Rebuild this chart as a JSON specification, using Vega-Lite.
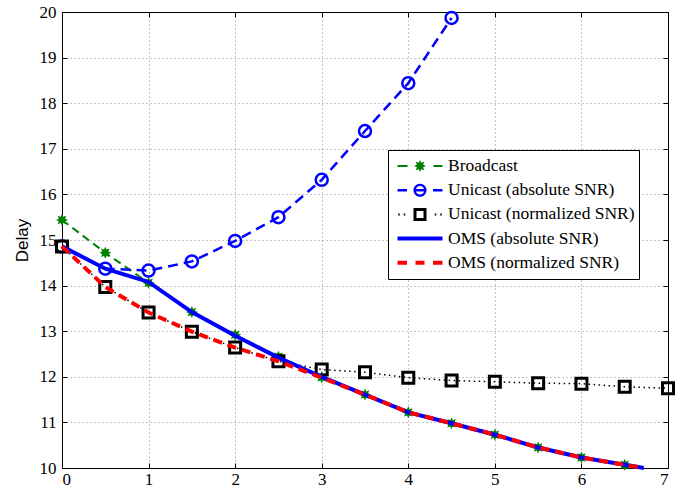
{
  "$schema": "https://vega.github.io/schema/vega-lite/v6.json",
  "width": 606,
  "height": 456,
  "autosize": {"type": "none"},
  "padding": {"left": 62, "top": 12, "right": 20, "bottom": 27},
  "background": "white",
  "config": {
    "view": {"stroke": "#000", "strokeWidth": 1},
    "axis": {
      "labelFont": "Liberation Serif",
      "labelFontSize": 17,
      "labelColor": "#000",
      "tickColor": "#000",
      "tickWidth": 1,
      "domainColor": "#000",
      "domainWidth": 1,
      "gridColor": "#000",
      "gridDash": [1, 3],
      "gridOpacity": 0.6,
      "gridWidth": 0.8,
      "titleFont": "Liberation Sans",
      "titleFontSize": 17,
      "titleFontWeight": "normal",
      "titleColor": "#000"
    }
  },
  "data": {
    "values": [
      {"s": "Broadcast", "x": 0, "y": 15.44},
      {"s": "Broadcast", "x": 0.5, "y": 14.72},
      {"s": "Broadcast", "x": 1, "y": 14.06},
      {"s": "Broadcast", "x": 1.5, "y": 13.42},
      {"s": "Broadcast", "x": 2, "y": 12.92},
      {"s": "Broadcast", "x": 2.5, "y": 12.44},
      {"s": "Broadcast", "x": 3, "y": 11.99},
      {"s": "Broadcast", "x": 3.5, "y": 11.61},
      {"s": "Broadcast", "x": 4, "y": 11.22},
      {"s": "Broadcast", "x": 4.5, "y": 10.98},
      {"s": "Broadcast", "x": 5, "y": 10.73},
      {"s": "Broadcast", "x": 5.5, "y": 10.45},
      {"s": "Broadcast", "x": 6, "y": 10.23},
      {"s": "Broadcast", "x": 6.5, "y": 10.07},
      {"s": "Unicast (absolute SNR)", "x": 0, "y": 14.86},
      {"s": "Unicast (absolute SNR)", "x": 0.5, "y": 14.37},
      {"s": "Unicast (absolute SNR)", "x": 1, "y": 14.33},
      {"s": "Unicast (absolute SNR)", "x": 1.5, "y": 14.53},
      {"s": "Unicast (absolute SNR)", "x": 2, "y": 14.98},
      {"s": "Unicast (absolute SNR)", "x": 2.5, "y": 15.5},
      {"s": "Unicast (absolute SNR)", "x": 3, "y": 16.32},
      {"s": "Unicast (absolute SNR)", "x": 3.5, "y": 17.39},
      {"s": "Unicast (absolute SNR)", "x": 4, "y": 18.44},
      {"s": "Unicast (absolute SNR)", "x": 4.5, "y": 19.87},
      {"s": "Unicast (normalized SNR)", "x": 0, "y": 14.86},
      {"s": "Unicast (normalized SNR)", "x": 0.5, "y": 13.97},
      {"s": "Unicast (normalized SNR)", "x": 1, "y": 13.41},
      {"s": "Unicast (normalized SNR)", "x": 1.5, "y": 12.99},
      {"s": "Unicast (normalized SNR)", "x": 2, "y": 12.64},
      {"s": "Unicast (normalized SNR)", "x": 2.5, "y": 12.34},
      {"s": "Unicast (normalized SNR)", "x": 3, "y": 12.16},
      {"s": "Unicast (normalized SNR)", "x": 3.5, "y": 12.1},
      {"s": "Unicast (normalized SNR)", "x": 4, "y": 11.98},
      {"s": "Unicast (normalized SNR)", "x": 4.5, "y": 11.92},
      {"s": "Unicast (normalized SNR)", "x": 5, "y": 11.89},
      {"s": "Unicast (normalized SNR)", "x": 5.5, "y": 11.86},
      {"s": "Unicast (normalized SNR)", "x": 6, "y": 11.85},
      {"s": "Unicast (normalized SNR)", "x": 6.5, "y": 11.78},
      {"s": "Unicast (normalized SNR)", "x": 7, "y": 11.75},
      {"s": "OMS (absolute SNR)", "x": 0, "y": 14.86},
      {"s": "OMS (absolute SNR)", "x": 0.5, "y": 14.37},
      {"s": "OMS (absolute SNR)", "x": 1, "y": 14.08},
      {"s": "OMS (absolute SNR)", "x": 1.5, "y": 13.42},
      {"s": "OMS (absolute SNR)", "x": 2, "y": 12.9},
      {"s": "OMS (absolute SNR)", "x": 2.5, "y": 12.42},
      {"s": "OMS (absolute SNR)", "x": 3, "y": 12.0},
      {"s": "OMS (absolute SNR)", "x": 3.5, "y": 11.61},
      {"s": "OMS (absolute SNR)", "x": 4, "y": 11.22},
      {"s": "OMS (absolute SNR)", "x": 4.5, "y": 10.98},
      {"s": "OMS (absolute SNR)", "x": 5, "y": 10.73},
      {"s": "OMS (absolute SNR)", "x": 5.5, "y": 10.45},
      {"s": "OMS (absolute SNR)", "x": 6, "y": 10.23},
      {"s": "OMS (absolute SNR)", "x": 6.5, "y": 10.07},
      {"s": "OMS (absolute SNR)", "x": 6.72, "y": 10.0},
      {"s": "OMS (normalized SNR)", "x": 0, "y": 14.86},
      {"s": "OMS (normalized SNR)", "x": 0.5, "y": 13.97},
      {"s": "OMS (normalized SNR)", "x": 1, "y": 13.41},
      {"s": "OMS (normalized SNR)", "x": 1.5, "y": 12.99},
      {"s": "OMS (normalized SNR)", "x": 2, "y": 12.64},
      {"s": "OMS (normalized SNR)", "x": 2.5, "y": 12.34},
      {"s": "OMS (normalized SNR)", "x": 3, "y": 11.98},
      {"s": "OMS (normalized SNR)", "x": 3.5, "y": 11.61},
      {"s": "OMS (normalized SNR)", "x": 4, "y": 11.22},
      {"s": "OMS (normalized SNR)", "x": 4.5, "y": 10.98},
      {"s": "OMS (normalized SNR)", "x": 5, "y": 10.73},
      {"s": "OMS (normalized SNR)", "x": 5.5, "y": 10.45},
      {"s": "OMS (normalized SNR)", "x": 6, "y": 10.23},
      {"s": "OMS (normalized SNR)", "x": 6.5, "y": 10.07},
      {"s": "OMS (normalized SNR)", "x": 6.72, "y": 10.0}
    ]
  },
  "resolve": {"axis": {"x": "independent", "y": "independent"}},
  "layer": [
    {
      "transform": [{"filter": "datum.s === 'Broadcast'"}],
      "mark": {"type": "line", "color": "#008000", "strokeWidth": 2, "strokeDash": [8, 5]},
      "encoding": {
        "x": {"field": "x", "type": "quantitative", "scale": {"domain": [0, 7], "nice": false, "zero": false},
          "axis": {"orient": "bottom", "values": [0, 1, 2, 3, 4, 5, 6, 7], "title": null, "grid": true, "labelPadding": 8, "labelFont": "Liberation Serif", "labelFontSize": 17, "tickSize": -5, "tickColor": "#000"}},
        "y": {"field": "y", "type": "quantitative", "scale": {"domain": [10, 20], "nice": false, "zero": false},
          "axis": {"orient": "left", "values": [10, 11, 12, 13, 14, 15, 16, 17, 18, 19, 20], "title": "Delay", "grid": true, "labelPadding": 11, "titlePadding": 8, "labelFont": "Liberation Serif", "labelFontSize": 17, "tickSize": -5, "tickColor": "#000", "titleFont": "Liberation Sans", "titleFontSize": 17, "titleFontWeight": "normal"}}
      }
    },
    {
      "transform": [{"filter": "datum.s === 'Broadcast'"}],
      "mark": {"type": "point", "shape": "M1,0L0.524,0.217L0.707,0.707L0.217,0.524L0,1L-0.217,0.524L-0.707,0.707L-0.524,0.217L-1,0L-0.524,-0.217L-0.707,-0.707L-0.217,-0.524L0,-1L0.217,-0.524L0.707,-0.707L0.524,-0.217Z", "filled": true, "color": "#008000", "size": 144, "opacity": 1},
      "encoding": {
        "x": {"field": "x", "type": "quantitative",
          "axis": {"orient": "top", "values": [0, 1, 2, 3, 4, 5, 6, 7], "title": null, "labels": false, "grid": false, "tickSize": -5, "tickColor": "#000"}},
        "y": {"field": "y", "type": "quantitative",
          "axis": {"orient": "right", "values": [10, 11, 12, 13, 14, 15, 16, 17, 18, 19, 20], "title": null, "labels": false, "grid": false, "tickSize": -5, "tickColor": "#000"}}
      }
    },
    {
      "transform": [{"filter": "datum.s === 'Unicast (absolute SNR)'"}],
      "mark": {"type": "line", "color": "#0000FF", "strokeWidth": 2.5, "strokeDash": [10, 6]},
      "encoding": {
        "x": {"field": "x", "type": "quantitative", "axis": null},
        "y": {"field": "y", "type": "quantitative", "axis": null}
      }
    },
    {
      "transform": [{"filter": "datum.s === 'Unicast (absolute SNR)'"}],
      "mark": {"type": "point", "shape": "circle", "filled": false, "color": "#0000FF", "strokeWidth": 2.5, "size": 144, "opacity": 1},
      "encoding": {
        "x": {"field": "x", "type": "quantitative", "axis": null},
        "y": {"field": "y", "type": "quantitative", "axis": null}
      }
    },
    {
      "transform": [{"filter": "datum.s === 'Unicast (normalized SNR)'"}],
      "mark": {"type": "line", "color": "#000000", "strokeWidth": 1.5, "strokeDash": [1.5, 3.5]},
      "encoding": {
        "x": {"field": "x", "type": "quantitative", "axis": null},
        "y": {"field": "y", "type": "quantitative", "axis": null}
      }
    },
    {
      "transform": [{"filter": "datum.s === 'Unicast (normalized SNR)'"}],
      "mark": {"type": "point", "shape": "square", "filled": false, "color": "#000000", "strokeWidth": 3, "size": 121, "opacity": 1},
      "encoding": {
        "x": {"field": "x", "type": "quantitative", "axis": null},
        "y": {"field": "y", "type": "quantitative", "axis": null}
      }
    },
    {
      "transform": [{"filter": "datum.s === 'OMS (absolute SNR)'"}],
      "mark": {"type": "line", "color": "#0000FF", "strokeWidth": 4},
      "encoding": {
        "x": {"field": "x", "type": "quantitative", "axis": null},
        "y": {"field": "y", "type": "quantitative", "axis": null}
      }
    },
    {
      "transform": [{"filter": "datum.s === 'OMS (normalized SNR)'"}],
      "mark": {"type": "line", "color": "#FF0000", "strokeWidth": 4, "strokeDash": [9, 6]},
      "encoding": {
        "x": {"field": "x", "type": "quantitative", "axis": null},
        "y": {"field": "y", "type": "quantitative", "axis": null}
      }
    },
    {
      "transform": [{"filter": "datum.x > 100"}],
      "mark": {"type": "point", "filled": true, "opacity": 1, "size": 2116},
      "encoding": {
        "x": {"field": "x", "type": "quantitative", "axis": null},
        "y": {"field": "y", "type": "quantitative", "axis": null},
        "color": {"field": "s", "type": "nominal",
          "scale": {"domain": ["Broadcast", "Unicast (absolute SNR)", "Unicast (normalized SNR)", "OMS (absolute SNR)", "OMS (normalized SNR)"],
            "range": ["#008000", "#0000FF", "#000000", "#0000FF", "#FF0000"]},
          "legend": {"title": null, "orient": "none", "legendX": 326, "legendY": 138, "strokeColor": "#000", "fillColor": "#fff", "padding": 4, "clipHeight": 24, "rowPadding": 0.2, "symbolOffset": 5, "labelOffset": 5, "symbolSize": 2116, "symbolStrokeWidth": 0, "labelFont": "Liberation Serif", "labelFontSize": 17.5, "labelColor": "#000", "labelLimit": 400}},
        "shape": {"field": "s", "type": "nominal",
          "scale": {"domain": ["Broadcast", "Unicast (absolute SNR)", "Unicast (normalized SNR)", "OMS (absolute SNR)", "OMS (normalized SNR)"],
            "range": [
              "M-0.978,-0.043H-0.543V0.043H-0.978Z M0.587,-0.043H0.978V0.043H0.587Z M0.261,0L0.137,0.057L0.185,0.185L0.057,0.137L0,0.261L-0.057,0.137L-0.185,0.185L-0.137,0.057L-0.261,0L-0.137,-0.057L-0.185,-0.185L-0.057,-0.137L0,-0.261L0.057,-0.137L0.185,-0.185L0.137,-0.057Z",
              "M-0.978,-0.054H-0.565V0.054H-0.978Z M0.565,-0.054H0.978V0.054H0.565Z M0.283,0C0.283,0.156 0.156,0.283 0,0.283C-0.156,0.283 -0.283,0.156 -0.283,0C-0.283,-0.156 -0.156,-0.283 0,-0.283C0.156,-0.283 0.283,-0.156 0.283,0Z M0.187,0C0.187,-0.103 0.103,-0.187 0,-0.187C-0.103,-0.187 -0.187,-0.103 -0.187,0C-0.187,0.103 -0.103,0.187 0,0.187C0.103,0.187 0.187,0.103 0.187,0Z M-0.283,-0.054H0.283V0.054H-0.283Z",
              "M-0.946,-0.043H-0.880V0.043H-0.946Z M-0.707,-0.043H-0.641V0.043H-0.707Z M0.641,-0.043H0.707V0.043H0.641Z M0.880,-0.043H0.946V0.043H0.880Z M-0.283,-0.283H0.283V0.283H-0.283Z M-0.152,-0.152V0.152H0.152V-0.152Z",
              "M-0.978,-0.087H0.978V0.087H-0.978Z",
              "M-0.978,-0.087H-0.565V0.087H-0.978Z M-0.196,-0.087H0.196V0.087H-0.196Z M0.565,-0.087H0.978V0.087H0.565Z"
            ]},
          "legend": {"title": null, "orient": "none", "legendX": 326, "legendY": 138, "strokeColor": "#000", "fillColor": "#fff", "padding": 4, "clipHeight": 24, "rowPadding": 0.2, "symbolOffset": 5, "labelOffset": 5, "symbolSize": 2116, "symbolStrokeWidth": 0, "labelFont": "Liberation Serif", "labelFontSize": 17.5, "labelColor": "#000", "labelLimit": 400}}
      }
    }
  ]
}
